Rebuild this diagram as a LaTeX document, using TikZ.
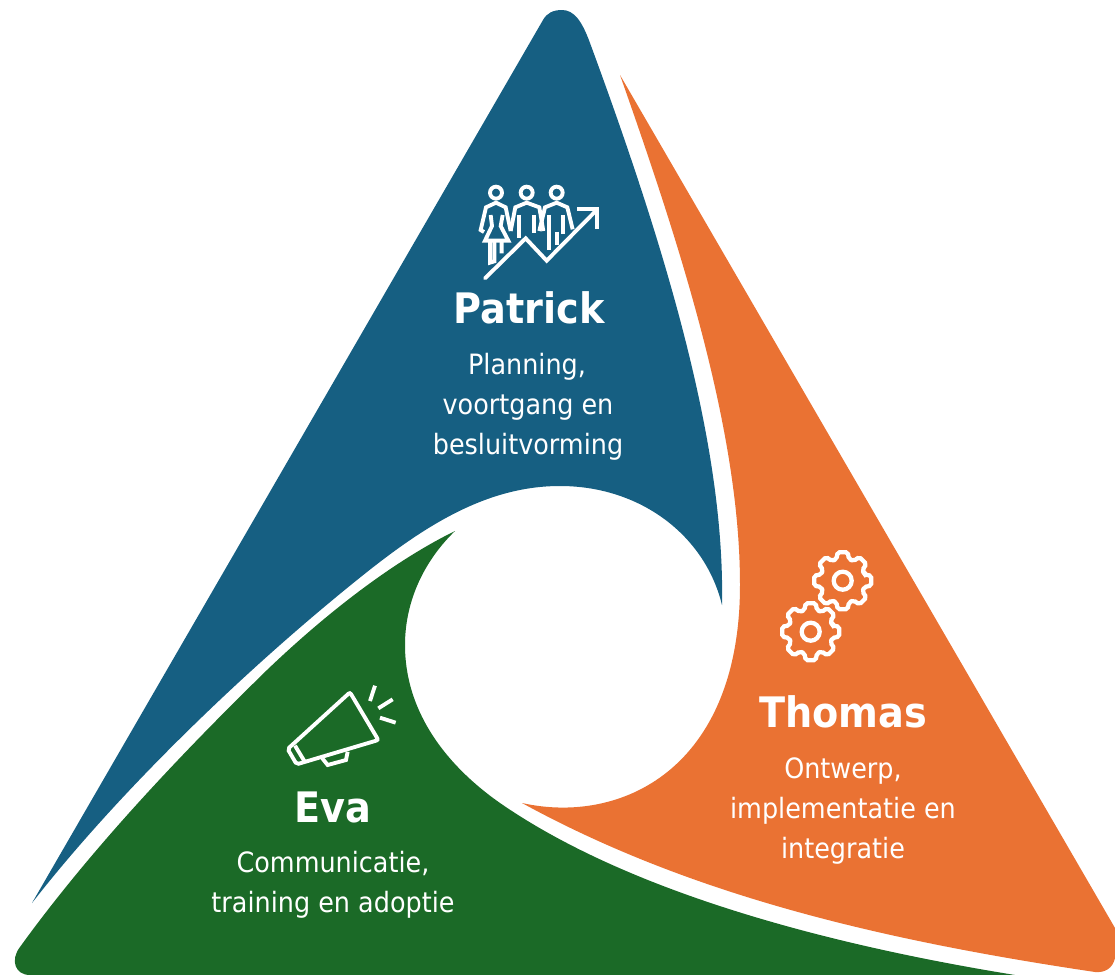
\documentclass[tikz,border=0pt]{standalone}
\usepackage{fontspec}
\setmainfont[FakeStretch=0.91]{DejaVu Sans}
\definecolor{cblue}{HTML}{165F82}
\definecolor{corange}{HTML}{EA7233}
\definecolor{cgreen}{HTML}{1B6A27}
\tikzset{
  icon/.style={draw=white,line width=2.9pt,line join=miter,line cap=butt,fill=none},
  gearline/.style={draw=white,line width=3.2pt,fill=none},
  head/.style={white,font=\bfseries\fontsize{31.5}{36}\selectfont,anchor=base,inner sep=0pt},
  body/.style={white,font=\fontsize{21}{24}\selectfont,anchor=base,inner sep=0pt},
}
\begin{document}
\begin{tikzpicture}[x=0.75pt,y=-0.75pt]
\useasboundingbox (0,0) rectangle (1115,975);
% blue
\fill[cblue] (32,903) .. controls (120,790) and (250,665) .. (367,572)
  .. controls (430,522) and (490,486) .. (560,486)
  .. controls (640,486) and (705,535) .. (722,605)
  .. controls (725,450) and (670,260) .. (590,43)
  .. controls (582,21) and (574,10) .. (562,10)
  .. controls (553,10) and (547,13) .. (543,20) -- cycle;
% orange
\fill[corange] (620,75) -- (1115,928) -- (1115,958)
  .. controls (1113,968) and (1105,973) .. (1095,972)
  .. controls (880,940) and (690,895) .. (522,803)
  .. controls (620,825) and (740,770) .. (740,585)
  .. controls (740,430) and (680,245) .. (620,75) -- cycle;
% green
\fill[cgreen] (455,531) .. controls (400,558) and (335,605) .. (267,670)
  .. controls (180,755) and (90,850) .. (20,947)
  .. controls (10,960) and (15,975) .. (30,975) -- (1015,975)
  .. controls (830,945) and (630,893) .. (500,803)
  .. controls (450,768) and (405,715) .. (405,645)
  .. controls (405,600) and (425,560) .. (455,531) -- cycle;
% people icon
\begin{scope}[shift={(460,170)},xscale=1/3,yscale=1/3]
  \draw[icon] (108,68) circle (18) (200,68) circle (18) (290,68) circle (18);
  \draw[icon] (72,186) -- (62,180) -- (78,112) -- (108,98) -- (137,112) -- (152,183);
  \draw[icon] (92,135) -- (96,168) -- (75,212) -- (145,212) -- (122,168) -- (128,135);
  \draw[icon] (90,212) -- (90,278) -- (103,274) -- (103,212) (125,212) -- (125,250);
  \draw[icon] (152,183) -- (166,112) -- (200,98) -- (238,112) -- (250,183);
  \draw[icon] (178,135) -- (178,205) (222,135) -- (222,190);
  \draw[icon] (238,183) -- (255,112) -- (290,98) -- (322,112) -- (338,178);
  \draw[icon] (268,135) -- (268,240) (290,185) -- (290,225) (308,135) -- (308,192);
  \draw[icon,line cap=round] (75,325) -- (197,205) -- (260,272) -- (412,118);
  \draw[icon] (352,118) -- (412,118) -- (412,178);
\end{scope}
% gears
\begin{scope}[shift={(842.7,580.7)}]
  \draw[gearline,rounded corners=1.5pt] (-16:22.5)
   \foreach \a in {0,45,...,315}{ -- (\a-10:29) -- (\a+10:29) -- (\a+16:22.5) -- (\a+29:22.5) } -- cycle;
  \draw[gearline] (0,0) circle (9);
\end{scope}
\begin{scope}[shift={(810.7,631.7)}]
  \draw[gearline,rounded corners=1.5pt] (-16:22.5)
   \foreach \a in {0,45,...,315}{ -- (\a-10:29) -- (\a+10:29) -- (\a+16:22.5) -- (\a+29:22.5) } -- cycle;
  \draw[gearline] (0,0) circle (9);
\end{scope}
% megaphone
\begin{scope}[shift={(275,675)},xscale=1/3,yscale=1/3]
  \draw[icon,rounded corners=1.5pt] (38,222) -- (225,52) -- (310,195) -- (65,268) -- cycle;
  \draw[icon] (60,212) -- (88,258);
  \draw[icon] (142,250) -- (158,270) -- (213,255) -- (218,230);
  \draw[icon] (300,32) -- (285,78) (353,73) -- (310,100) (315,128) -- (362,143);
\end{scope}
% text
\node[head] (patrick) at (529,323) {Patrick};
\node[body] (p1) at (527,374) {Planning,};
\node[body] (p2) at (528,414) {voortgang en};
\node[body] (p3) at (528,454) {besluitvorming};
\node[head] (thomas) at (843,727) {Thomas};
\node[body] (t1) at (843,778) {Ontwerp,};
\node[body] (t2) at (843,818) {implementatie en};
\node[body] (t3) at (843,858) {integratie};
\node[head] (eva) at (333,822) {Eva};
\node[body] (e1) at (333,872) {Communicatie,};
\node[body] (e2) at (333,912) {training en adoptie};
\end{tikzpicture}
\end{document}
